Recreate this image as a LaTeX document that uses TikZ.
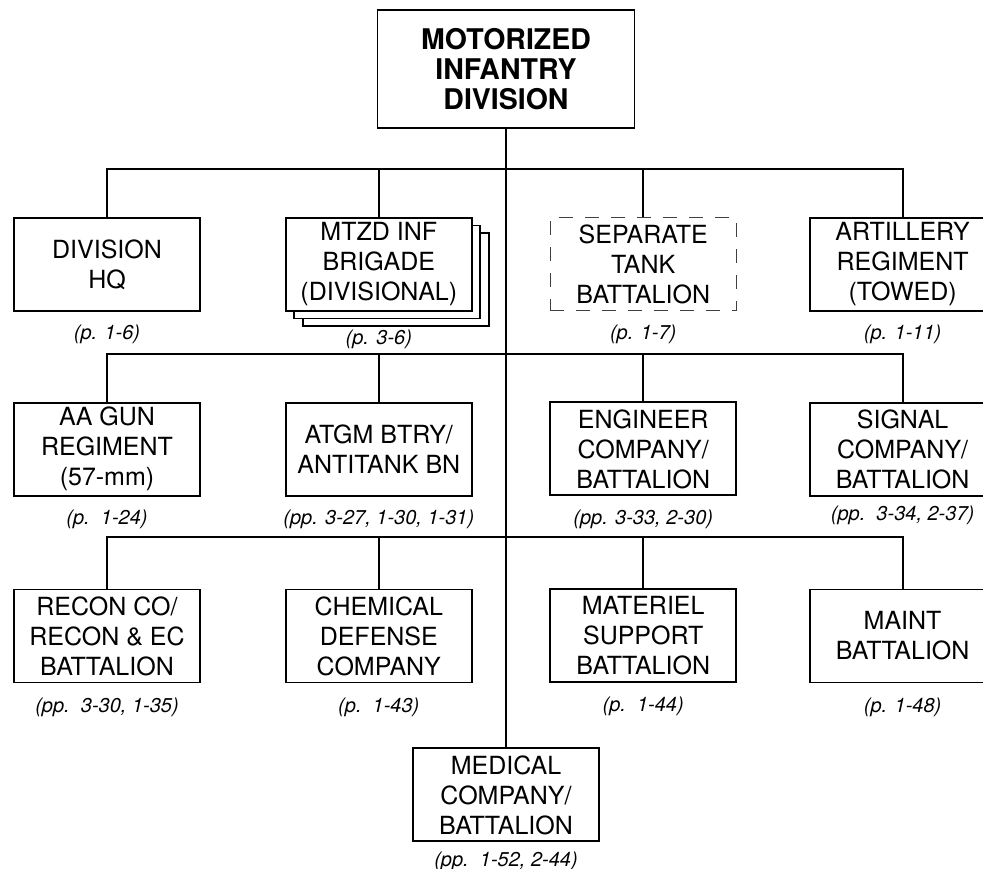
\documentclass[tikz,border=0pt]{standalone}
\usepackage{fontspec}
\setmainfont{TeX Gyre Heros}
\usepackage{tikz}
\usetikzlibrary{positioning,backgrounds}
\newcommand{\unitfont}{\fontsize{25}{30}\selectfont}
\newcommand{\pagefont}{\fontsize{20}{24}\selectfont\itshape}
\newcommand{\headfont}{\fontsize{28.5}{30}\selectfont\bfseries}
\tikzset{
  blk/.style={draw, line width=1.8pt, fill=white, minimum width=186pt,
              minimum height=93pt, inner sep=0pt, align=center, font=\unitfont},
  headb/.style={blk, minimum width=257pt, minimum height=118pt, font=\headfont},
  dashb/.style={blk, line width=1pt, draw=black!75, dash pattern=on 14pt off 12pt},
  lbl/.style={inner sep=0pt, font=\pagefont},
  ln/.style={line width=1.8pt},
}
\begin{document}
\begin{tikzpicture}[x=1pt, y=1pt]
\clip (0,0) rectangle (983,869);

% ---- DIVISION ----
\node[headb] (div) at (506,800) {MOTORIZED\\INFANTRY\\DIVISION};

% ---- row 1 ----
\node[blk] (hq) at (107,604.5) {DIVISION\\HQ};
\node[blk, right=84pt of hq] (brig) {MTZD INF\\BRIGADE\\(DIVISIONAL)};
\node[dashb, right=77pt of brig] (tank) {SEPARATE\\TANK\\BATTALION};
\node[blk, right=72pt of tank] (art) {ARTILLERY\\REGIMENT\\(TOWED)};
% brigade stack
\begin{scope}[on background layer]
  \node[blk] (brig3) at ([shift={(17pt,-15pt)}]brig.center) {};
  \node[blk] (brig2) at ([shift={(8.5pt,-7.5pt)}]brig.center) {};
\end{scope}

\node[lbl, below=13pt of hq] (hqp) {(p. 1-6)};
\node[lbl, below=18pt of brig] (brigp) {(p. 3-6)};
\node[lbl, below=13pt of tank] (tankp) {(p. 1-7)};
\node[lbl, below=13pt of art] (artp) {(p. 1-11)};

% ---- row 2 ----
\node[blk, below=90pt of hq] (aa) {AA GUN\\REGIMENT\\(57-mm)};
\node[blk, below=90pt of brig] (atgm) {ATGM BTRY/\\ANTITANK BN};
\node[blk, below=90pt of tank] (eng) {ENGINEER\\COMPANY/\\BATTALION};
\node[blk, below=90pt of art] (sig) {SIGNAL\\COMPANY/\\BATTALION};

\node[lbl, below=13pt of aa] (aap) {(p.\ \ 1-24)};
\node[lbl, below=13pt of atgm] (atgmp) {(pp. 3-27, 1-30, 1-31)};
\node[lbl, below=13pt of eng] (engp) {(pp. 3-33, 2-30)};
\node[lbl, below=9pt of sig] (sigp) {(pp.\ \ 3-34, 2-37)};

% ---- row 3 ----
\node[blk, below=92pt of aa] (recon) {RECON CO/\\RECON \& EC\\BATTALION};
\node[blk, below=92pt of atgm] (chem) {CHEMICAL\\DEFENSE\\COMPANY};
\node[blk, below=92pt of eng] (mat) {MATERIEL\\SUPPORT\\BATTALION};
\node[blk, below=92pt of sig] (maint) {MAINT\\BATTALION};

\node[lbl, below=14pt of recon] (reconp) {(pp.\ \ 3-30, 1-35)};
\node[lbl, below=14pt of chem] (chemp) {(p.\ \ 1-43)};
\node[lbl, below=14pt of mat] (matp) {(p.\ \ 1-44)};
\node[lbl, below=14pt of maint] (maintp) {(p. 1-48)};

% ---- medical ----
\coordinate (medtop) at (div.south |- chem.south);
\node[blk, below=64pt of medtop] (med) {MEDICAL\\COMPANY/\\BATTALION};
\node[lbl, below=9pt of med] (medp) {(pp.\ \ 1-52, 2-44)};

% ---- lines ----
\coordinate (bus1) at ([yshift=-40pt]div.south);
\path (div.south |- hq.south) ++(0,-42) coordinate (bus2);
\path (div.south |- aa.south) ++(0,-40) coordinate (bus3);

\draw[ln] (div.south) -- (med.north);

\draw[ln] (hq.north) |- (bus1) -| (art.north);
\draw[ln] (brig.north) -- (brig.north |- bus1);
\draw[ln] (tank.north) -- (tank.north |- bus1);

\draw[ln] (aa.north) |- (bus2) -| (sig.north);
\draw[ln] (atgm.north) -- (atgm.north |- bus2);
\draw[ln] (eng.north) -- (eng.north |- bus2);

\draw[ln] (recon.north) |- (bus3) -| (maint.north);
\draw[ln] (chem.north) -- (chem.north |- bus3);
\draw[ln] (mat.north) -- (mat.north |- bus3);

\end{tikzpicture}
\end{document}
